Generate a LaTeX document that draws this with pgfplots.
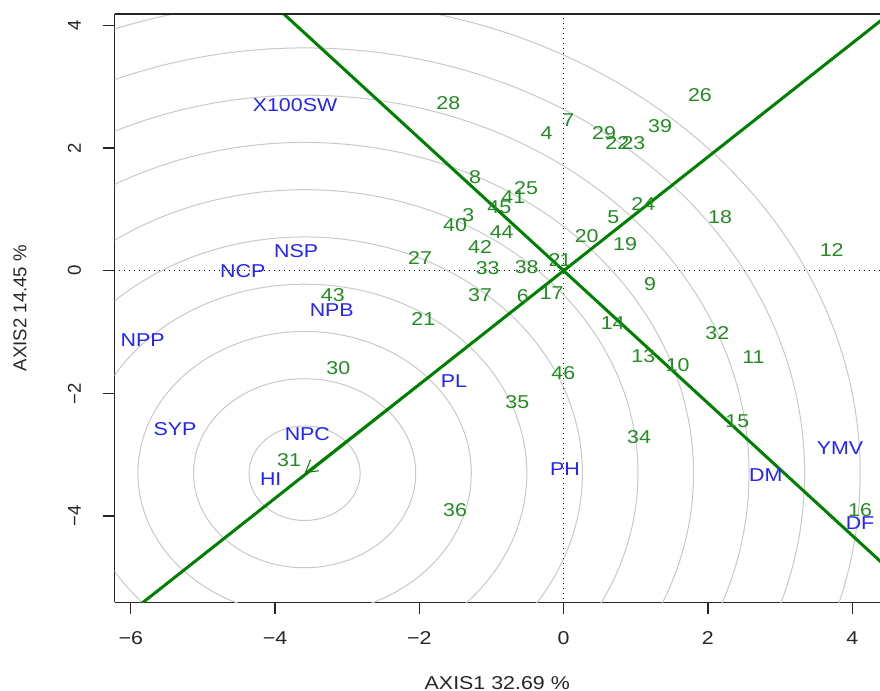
\documentclass[border=0pt]{standalone}
\usepackage{fontspec}
\setmainfont{Liberation Sans}
\usepackage{graphicx}
\usepackage{pgfplots}
\pgfplotsset{compat=1.18}
\usetikzlibrary{arrows.meta}

\definecolor{glab}{RGB}{34,139,34}
\definecolor{blab}{RGB}{35,35,255}
\definecolor{gline}{RGB}{0,128,0}
\definecolor{circ}{RGB}{200,200,200}
\newcommand\lab[1]{\scalebox{1.15}[1]{#1}}
\newcommand\fnt{\fontsize{9.3bp}{11bp}\selectfont}

% genotype scores
\pgfplotstableread{
x y lab
0.026 0.174 1
-0.126 0.174 2
-1.321 0.908 3
-0.235 2.249 4
0.689 0.880 5
-0.567 -0.412 6
0.066 2.456 7
-1.228 1.532 8
1.198 -0.222 9
1.581 -1.537 10
2.630 -1.411 11
3.716 0.337 12
1.105 -1.390 13
0.680 -0.847 14
2.408 -2.449 15
4.108 -3.899 16
-0.165 -0.369 17
2.168 0.870 18
0.851 0.430 19
0.320 0.565 20
-1.945 -0.793 21
0.745 2.076 22
0.967 2.076 23
1.105 1.087 24
-0.521 1.343 25
1.890 2.863 26
-1.990 0.202 27
-1.598 2.728 28
0.560 2.239 29
-3.123 -1.591 30
-3.806 -3.085 31
2.131 -1.010 32
-1.052 0.039 33
1.045 -2.705 34
-0.642 -2.135 35
-1.505 -3.899 36
-1.159 -0.396 37
-0.512 0.065 38
1.336 2.358 39
-1.505 0.745 40
-0.697 1.206 41
-1.159 0.381 42
-3.200 -0.396 43
-0.858 0.636 44
-0.891 1.043 45
-0.004 -1.662 46
}\genotypes

% trait scores
\pgfplotstableread{
x y lab
-3.723 2.700 X100SW
-3.708 0.321 NSP
-4.448 -0.005 NCP
-3.214 -0.640 NPB
-5.834 -1.129 NPP
-5.386 -2.579 SYP
-3.552 -2.661 NPC
-4.060 -3.394 HI
-1.519 -1.797 PL
0.019 -3.231 PH
2.801 -3.329 DM
3.831 -2.894 YMV
4.108 -4.106 DF
}\traits

\begin{document}
\begin{tikzpicture}
\begin{axis}[
    scale only axis,
    width=382.75bp, height=294.15bp,
    xmin=-6.225, xmax=4.385, ymin=-5.403, ymax=4.183,
    axis lines*=left,
    axis line style={-, black!85, line width=0.7bp},
    tick align=outside,
    major tick length=6bp,
    tick style={black!85, line width=0.7bp},
    xtick={-6,-4,-2,0,2,4},
    xticklabels={\lab{−6},\lab{−4},\lab{−2},\lab{0},\lab{2},\lab{4}},
    ytick={-4,-2,0,2,4},
    yticklabels={−4,−2,0,2,4},
    tick label style={font=\fnt, text=black!85, inner sep=0pt, anchor=center},
    xticklabel shift=11.7bp,
    yticklabel style={rotate=90},
    yticklabel shift=14bp,
    xlabel={\lab{AXIS1 32.69 \%}},
    ylabel={AXIS2 14.45 \%},
    label style={font=\fnt, text=black!85},
    xlabel style={at={(axis description cs:0.5,-0.1377)}, anchor=center},
    ylabel style={at={(axis description cs:-0.1235,0.5)}, anchor=center},
    nodes near coords={\lab{\pgfplotspointmeta}},
    point meta=explicit symbolic,
    nodes near coords style={anchor=center, font=\fnt, inner sep=0pt},
]
% concentric circles round the ideal point
\pgfplotsinvokeforeach{0.77,1.54,2.31,3.08,3.85,4.62,5.39,6.16,6.93,7.70}{
  \draw[circ, line width=0.5bp] (axis cs:-3.59,-3.30) ellipse [x radius=#1, y radius=#1];
}
\addplot[black, line width=0.6bp, dash pattern=on 0.6bp off 1.9bp, no marks, nodes near coords=] coordinates {(-7,0) (5,0)};
\addplot[black, line width=0.6bp, dash pattern=on 0.6bp off 1.9bp, no marks, nodes near coords=] coordinates {(0,-6) (0,5)};
\addplot[gline, line width=1.5bp, no marks, nodes near coords=] coordinates {(-7,-6.489) (5,4.635)};
\addplot[gline, line width=1.5bp, no marks, nodes near coords=] coordinates {(-4.5,4.854) (5,-5.394)};
\addplot[gline, line width=0.5bp, no marks, nodes near coords=, -{Straight Barb[length=6bp, width=7bp]}] coordinates {(0,0) (-3.59,-3.30)};
\addplot[only marks, mark=none, nodes near coords style={text=glab}] table[meta=lab] {\genotypes};
\addplot[only marks, mark=none, nodes near coords style={text=blab}] table[meta=lab] {\traits};
\end{axis}
\draw[black!85, line width=0.7bp] (current axis.north west) -- (current axis.north east);
\pgfresetboundingbox
\path ([shift={(-57.25bp,-44.35bp)}]current axis.south west) rectangle ([shift={(0bp,7bp)}]current axis.north east);
\end{tikzpicture}
\end{document}
